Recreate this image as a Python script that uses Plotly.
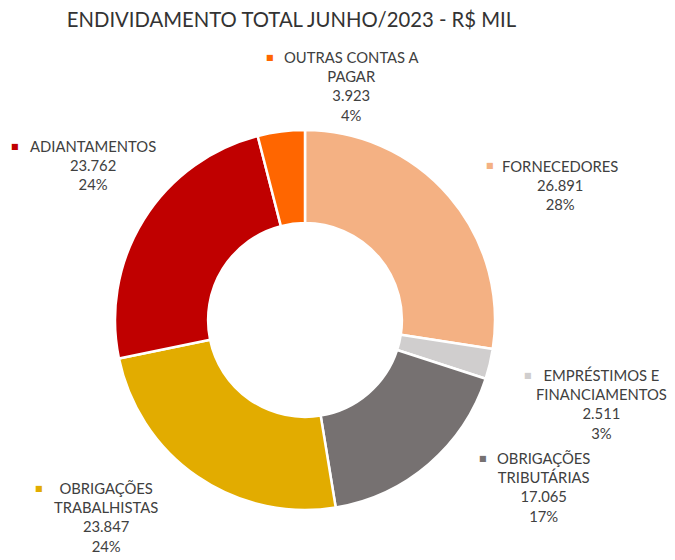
import plotly.graph_objects as go

# dados (R$ mil) - junho/2023
categorias = ["FORNECEDORES", "EMPRÉSTIMOS E<br>FINANCIAMENTOS", "OBRIGAÇÕES<br>TRIBUTÁRIAS",
              "OBRIGAÇÕES<br>TRABALHISTAS", "ADIANTAMENTOS", "OUTRAS CONTAS A<br>PAGAR"]
valores = [26891, 2511, 17065, 23847, 23762, 3923]
percentuais = [28, 3, 17, 24, 24, 4]
cores = ["#F4B183", "#D0CECE", "#767171", "#E2AC00", "#C00000", "#FF6600"]

# layout em pixels da tela (a pagina tem margem de 8px no body)
W, H = 667, 552
OFF = 8

def px(x):
    return (x - OFF) / W

def py(y):
    return 1 - (y - OFF) / H

# centro do texto (x), centro da 1a linha (y), posicao do quadrado (x)
rot_x = [560, 601, 543, 106, 93, 351]
rot_y = [166, 375, 458, 488, 146, 57]
quad_x = [490, 528, 483, 39, 15, 270]

fonte = "Lato"
cor_texto = "#404040"

cx, cy, r = 305, 320, 190

fig = go.Figure(go.Pie(
    labels=categorias,
    values=valores,
    hole=0.51,
    sort=False,
    direction="clockwise",
    rotation=0,
    marker={"colors": cores, "line": {"color": "white", "width": 2.5}},
    textinfo="none",
    hoverinfo="label+value",
    showlegend=False,
    domain={"x": [px(cx - r), px(cx + r)], "y": [py(cy + r), py(cy - r)]},
))

for cat, v, p, c, x, y, qx in zip(categorias, valores, percentuais, cores, rot_x, rot_y, quad_x):
    num = f"{v:,}".replace(",", ".")
    fig.add_annotation(
        x=px(x), y=py(y - 11.5), xref="paper", yref="paper",
        xanchor="center", yanchor="top",
        text=f"{cat}<br>{num}<br>{p}%", showarrow=False, align="center",
        font={"family": fonte, "size": 14.8, "color": cor_texto},
    )
    fig.add_annotation(
        x=px(qx), y=py(y), xref="paper", yref="paper",
        xanchor="center", yanchor="middle",
        text="■", showarrow=False,
        font={"family": "DejaVu Sans", "size": 8, "color": c},
    )

fig.update_layout({
    "title": {"text": "ENDIVIDAMENTO TOTAL JUNHO/2023 - R$ MIL",
              "x": px(291.5), "xanchor": "center", "y": py(20), "yanchor": "middle",
              "font": {"family": fonte, "size": 20.3, "color": "#333333"}},
    "width": W, "height": H,
    "margin": {"l": 0, "r": 0, "t": 0, "b": 0},
    "paper_bgcolor": "white",
    "plot_bgcolor": "white",
})

fig.write_html("out.html")
